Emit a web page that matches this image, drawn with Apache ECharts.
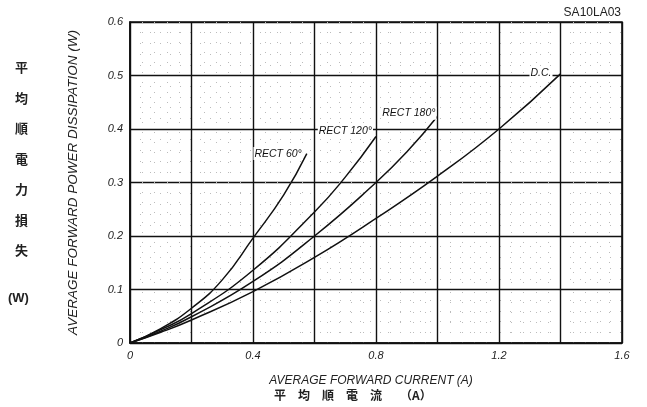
<!DOCTYPE html>
<html>
<head>
<meta charset="utf-8">
<script src="https://cdn.jsdelivr.net/npm/echarts@6/dist/echarts.min.js"></script>
<style>
  html, body { margin: 0; padding: 0; background: #fff; }
  #chart { width: 647px; height: 407px; }
</style>
</head>
<body>
<div id="chart"></div>
<script>
// curve data, [current A, power W]
const rect60 = [[0, 0], [0.1, 0.027], [0.2, 0.065], [0.3, 0.118], [0.4, 0.196], [0.5, 0.277], [0.575, 0.354]];
const rect120 = [[0, 0], [0.1, 0.025], [0.2, 0.055], [0.4, 0.136], [0.6, 0.245], [0.7, 0.31], [0.8, 0.386]];
const rect180 = [[0, 0], [0.1, 0.022], [0.2, 0.049], [0.4, 0.115], [0.6, 0.2], [0.8, 0.3], [0.9, 0.357], [1.0, 0.424]];
const dcCurve = [[0, 0], [0.1, 0.02], [0.2, 0.043], [0.4, 0.096], [0.6, 0.16], [0.8, 0.233], [1.0, 0.312], [1.2, 0.4], [1.4, 0.503]];

const curveNames = ['RECT 60°', 'RECT 120°', 'RECT 180°', 'D.C.'];
const xTickLabels = ['0', '0.4', '0.8', '1.2', '1.6'];
const leftJpChars = ['平', '均', '順', '電', '力', '損', '失'];

const textFont = '"Liberation Sans", Arial, sans-serif';
const jpFont = '"Noto Sans CJK JP", sans-serif';

function curveSeries(name, data, offset) {
    return {
        name: name,
        type: 'line',
        data: data,
        smooth: true,
        symbol: 'none',
        lineStyle: {color: '#111', width: 1.5},
        endLabel: {
            show: true,
            formatter: name,
            distance: 0,
            align: 'right',
            verticalAlign: 'middle',
            offset: offset,
            fontFamily: textFont,
            fontStyle: 'italic',
            fontSize: 10.5,
            color: '#111',
            backgroundColor: '#fff',
            padding: [1, 1]
        },
        z: 3
    };
}

const chart = echarts.init(document.getElementById('chart'));

const graphicTexts = leftJpChars.map((ch, i) => ({
    type: 'text',
    left: 15,
    top: 61 + i * 30.5,
    style: {text: ch, font: 'bold 13px ' + jpFont, fill: '#222'}
}));
graphicTexts.push({
    type: 'text', left: 8, top: 292,
    style: {text: '(W)', font: 'bold 13px ' + textFont, fill: '#222'}
});
graphicTexts.push({
    type: 'text', right: 26, top: 7,
    style: {text: 'SA10LA03', font: '12px ' + textFont, fill: '#222'}
});
graphicTexts.push({
    type: 'text', left: 274, top: 389,
    style: {text: '平　均　順　電　流　　（A）', font: 'bold 12px ' + jpFont, fill: '#222'}
});

chart.setOption({
    animation: false,
    backgroundColor: '#fff',
    grid: {
        left: 130, right: 25, top: 22, bottom: 64,
        show: true, borderColor: '#111', borderWidth: 1.6
    },
    xAxis: {
        type: 'value',
        min: 0, max: 1.6, interval: 0.2,
        name: 'AVERAGE FORWARD CURRENT (A)',
        nameLocation: 'middle',
        nameGap: 32,
        nameTextStyle: {fontFamily: textFont, fontStyle: 'italic', fontSize: 12, color: '#222', padding: [0, 10, 0, 0]},
        axisLine: {show: true, lineStyle: {color: '#111', width: 1.6}},
        axisTick: {show: false},
        axisLabel: {
            fontFamily: textFont, fontStyle: 'italic', fontSize: 11, color: '#222', margin: 7,
            formatter: v => {
                const s = String(Math.round(v * 10) / 10);
                return xTickLabels.indexOf(s) >= 0 ? s : '';
            }
        },
        splitLine: {show: true, lineStyle: {color: '#111', width: 1.4}},
        minorTick: {show: false, splitNumber: 5},
        minorSplitLine: {show: true, lineStyle: {color: '#bbb', width: 1, type: [1, 9]}}
    },
    yAxis: {
        type: 'value',
        min: 0, max: 0.6, interval: 0.1,
        name: 'AVERAGE FORWARD POWER DISSIPATION (W)',
        nameLocation: 'middle',
        nameGap: 50,
        nameTextStyle: {fontFamily: textFont, fontStyle: 'italic', fontSize: 13.5, color: '#222'},
        axisLine: {show: true, lineStyle: {color: '#111', width: 1.6}},
        axisTick: {show: false},
        axisLabel: {
            fontFamily: textFont, fontStyle: 'italic', fontSize: 11, color: '#222', margin: 7,
            formatter: v => v === 0 ? '0' : v.toFixed(1)
        },
        splitLine: {show: true, lineStyle: {color: '#111', width: 1.4}},
        minorTick: {show: false, splitNumber: 5},
        minorSplitLine: {show: true, lineStyle: {color: '#bbb', width: 1, type: [1, 9]}}
    },
    graphic: graphicTexts,
    series: [
        curveSeries(curveNames[0], rect60, [-4, 0]),
        curveSeries(curveNames[1], rect120, [-3, -5]),
        curveSeries(curveNames[2], rect180, [-1, -3]),
        curveSeries(curveNames[3], dcCurve, [-8, -1])
    ]
});
</script>
</body>
</html>
